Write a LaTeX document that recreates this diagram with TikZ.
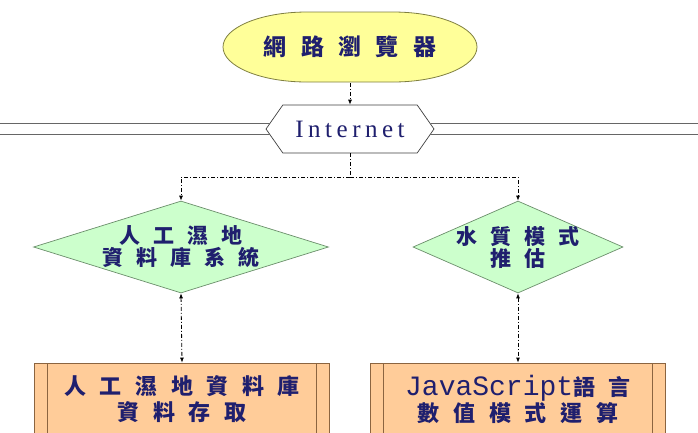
\documentclass[tikz,border=0pt]{standalone}
\usepackage{fontspec}
\setmainfont{Liberation Serif}
\newfontfamily\cjkfont[LetterSpace=62]{Noto Sans CJK TC}
\newfontfamily\codefont{Liberation Mono}
\usetikzlibrary{shapes.geometric, shapes.symbols, arrows.meta, positioning}

\definecolor{termfill}{HTML}{FFFF99}
\definecolor{termline}{HTML}{7F7F40}
\definecolor{decfill}{HTML}{CCFFCC}
\definecolor{decline}{HTML}{6B8E6B}
\definecolor{procfill}{HTML}{FFCC99}
\definecolor{procline}{HTML}{8B6440}
\definecolor{navy}{HTML}{1F1F6E}

\begin{document}
\begin{tikzpicture}[
    x=1pt, y=-1pt,
    terminal/.style={minimum width=258pt, minimum height=72pt, inner sep=0pt,
        path picture={
            \filldraw[fill=termfill, draw=termline, line width=0.8pt]
                ([xshift=-43pt, yshift=35pt]path picture bounding box.center)
                -- ([xshift=43pt, yshift=35pt]path picture bounding box.center)
                arc[start angle=90, end angle=-90, x radius=84pt, y radius=35pt]
                -- ([xshift=-43pt, yshift=-35pt]path picture bounding box.center)
                arc[start angle=270, end angle=90, x radius=84pt, y radius=35pt]
                -- cycle;
        }},
    gateway/.style={signal, signal to=east and west, signal pointer angle=110,
        draw=black!75, fill=white, line width=0.7pt,
        minimum width=168pt, minimum height=48pt, inner sep=0pt},
    decision/.style={diamond, draw=decline, fill=decfill, line width=0.7pt, inner sep=0pt},
    process/.style={rectangle, draw=procline, fill=procfill, line width=0.8pt,
        minimum width=295pt, minimum height=72pt, inner sep=0pt, align=center,
        path picture={
            \draw[procline, line width=1.2pt]
                ([xshift=13pt]path picture bounding box.north west)
                -- ([xshift=13pt]path picture bounding box.south west);
            \draw[procline, line width=1.2pt]
                ([xshift=-13pt]path picture bounding box.north east)
                -- ([xshift=-13pt]path picture bounding box.south east);
        }},
    cjk/.style={font=\cjkfont\bfseries\fontsize{22}{26}\selectfont, text=navy, align=center},
    link/.style={line width=0.8pt, dash pattern=on 4pt off 2pt on 1pt off 2pt},
    tip/.style={-{Latex[length=5pt, width=4pt]}},
    both/.style={{Latex[length=5pt, width=4pt]}-{Latex[length=5pt, width=4pt]}},
    rail/.style={draw=black!60, line width=0.8pt}
]
    \clip (0,0) rectangle (698,432);
    \useasboundingbox (0,0) rectangle (698,432);

    % Browser and network
    \node[terminal, cjk, font=\cjkfont\bfseries\fontsize{23}{27}\selectfont] (browser) at (350,47) {網路瀏覽器};
    \node[gateway, text=navy, font=\fontsize{25}{28}\selectfont] (internet) at (350,129)
        {\addfontfeature{LetterSpace=18}Internet};
    \coordinate (leftedge) at (0,129);
    \coordinate (rightedge) at (698,129);
    \draw[rail] (internet.176) -- (internet.176 -| leftedge);
    \draw[rail] (internet.184) -- (internet.184 -| leftedge);
    \draw[rail] (internet.4) -- (internet.4 -| rightedge);
    \draw[rail] (internet.356) -- (internet.356 -| rightedge);

    % Subsystems
    \node[decision, minimum width=295pt, minimum height=92pt,
        label={[cjk, font=\cjkfont\bfseries\fontsize{21}{22}\selectfont]center:{人工濕地\\資料庫系統}}]
        (wetland) at (181,247) {};
    \node[decision, minimum width=210pt, minimum height=92pt,
        label={[cjk, font=\cjkfont\bfseries\fontsize{21}{22}\selectfont]center:{水質模式\\推估}}]
        (quality) at (518,247) {};

    % Back-end modules
    \node[process, cjk] (wetdb) at (182,399) {人工濕地資料庫\\資料存取};
    \node[process, cjk] (jscalc) at (518,399)
        {{\codefont\mdseries\fontsize{28}{26}\selectfont JavaScript}語言\\數值模式運算};

    % Connections
    \coordinate (split) at (350,177);
    \draw[link, tip] (browser.south) -- (internet.north);
    \draw[link] (internet.south) -- (split);
    \draw[link, tip] (split) -| (wetland.north);
    \draw[link, tip] (split) -| (quality.north);
    \draw[link, both] (wetland.south) -- (wetdb.north);
    \draw[link, both] (quality.south) -- (jscalc.north);

\end{tikzpicture}
\end{document}
